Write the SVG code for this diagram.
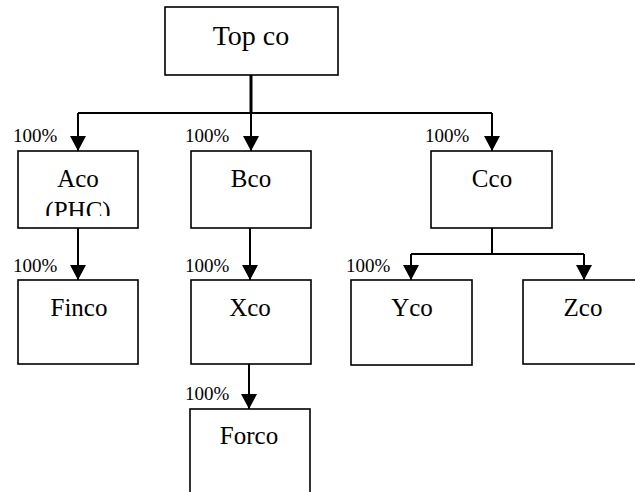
<svg xmlns="http://www.w3.org/2000/svg" width="635" height="492" viewBox="0 0 635 492" font-family="'Liberation Serif', 'Times New Roman', 'DejaVu Serif', serif">
<style>
.box{fill:#fff;stroke:#000;stroke-width:1.6}
text{font-family:'Liberation Serif','Times New Roman','DejaVu Serif',serif;fill:#000}
.lbl{font-size:25px;text-anchor:middle}
.pct{font-size:19px}
.con{fill:none;stroke:#000;stroke-width:2}
</style>
<defs>
<marker id="arr" markerUnits="userSpaceOnUse" markerWidth="15" markerHeight="16" viewBox="0 0 15 16" refX="15" refY="8" orient="auto">
<path d="M0,0 L15,8 L0,16 Z" fill="#000"/>
</marker>
<clipPath id="clipA"><rect x="18" y="151" width="120" height="65"/></clipPath>
</defs>
<rect width="635" height="492" fill="#fff"/>
<g id="connectors">
<path class="con" d="M251,75 V113" style="stroke-width:3"/>
<path class="con" d="M78,113 H492"/>
<path class="con" d="M78,113 V151" marker-end="url(#arr)"/>
<path class="con" d="M251,113 V151" marker-end="url(#arr)"/>
<path class="con" d="M492,113 V151" marker-end="url(#arr)"/>
<path class="con" d="M78,228 V280" marker-end="url(#arr)"/>
<path class="con" d="M250,228 V280" marker-end="url(#arr)"/>
<path class="con" d="M249,364 V409" marker-end="url(#arr)"/>
<path class="con" d="M492,228 V254 M411,254 H584"/>
<path class="con" d="M411,254 V280" marker-end="url(#arr)"/>
<path class="con" d="M584,254 V280" marker-end="url(#arr)"/>
<text class="pct" x="13" y="142">100%</text>
<text class="pct" x="185" y="142">100%</text>
<text class="pct" x="425" y="142">100%</text>
<text class="pct" x="13" y="272">100%</text>
<text class="pct" x="185" y="272">100%</text>
<text class="pct" x="185" y="400">100%</text>
<text class="pct" x="346" y="272">100%</text>
</g>
<g id="topco">
<rect class="box" x="165" y="7" width="173" height="68"/>
<text class="lbl" x="251" y="45" style="font-size:28px">Top co</text>
</g>
<g id="aco">
<rect class="box" x="18" y="151" width="120" height="77"/>
<g clip-path="url(#clipA)">
<text class="lbl" x="78" y="187">Aco</text>
<text class="lbl" x="78" y="219">(PHC)</text>
</g>
</g>
<g id="bco">
<rect class="box" x="191" y="151" width="120" height="77"/>
<text class="lbl" x="251" y="187">Bco</text>
</g>
<g id="cco">
<rect class="box" x="431" y="151" width="121" height="77"/>
<text class="lbl" x="492" y="187">Cco</text>
</g>
<g id="finco">
<rect class="box" x="18" y="280" width="120" height="84"/>
<text class="lbl" x="79" y="316">Finco</text>
</g>
<g id="xco">
<rect class="box" x="191" y="280" width="120" height="84"/>
<text class="lbl" x="250" y="316">Xco</text>
</g>
<g id="yco">
<rect class="box" x="351" y="280" width="121" height="85"/>
<text class="lbl" x="412" y="316">Yco</text>
</g>
<g id="zco">
<rect class="box" x="523" y="280" width="130" height="84"/>
<text class="lbl" x="583" y="316">Zco</text>
</g>
<g id="forco">
<rect class="box" x="190" y="409" width="120" height="100"/>
<text class="lbl" x="249" y="444">Forco</text>
</g>
</svg>
